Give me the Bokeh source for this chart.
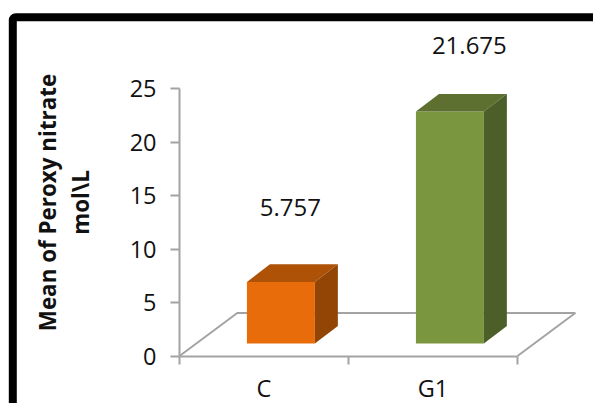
from bokeh.plotting import figure
from bokeh.models import Range1d, FixedTicker, Label, BoxAnnotation
from bokeh.embed import file_html
from bokeh.resources import INLINE

# Chart data
categories = ["C", "G1"]
values = [5.757, 21.675]
y_ticks = [0, 5, 10, 15, 20, 25]

# Colours per bar: front, top and side faces
front_colors = ["#E96C0A", "#7A963E"]
top_colors = ["#AE5208", "#5E7030"]
side_colors = ["#934505", "#4D5F28"]

FONT = "Open Sans"
GREY = "#A3A3A3"
WIDTH, HEIGHT = 593, 403

# Axis placement on the page, in pixels
ORIGIN_X, ORIGIN_Y = 179.0, 355.5
PX_PER_CATEGORY = 169.0
PX_PER_UNIT = 10.7

# Pseudo-3D geometry, in axis units (one category wide, y in value units)
BAR_WIDTH = 0.402
BAR_LIFT = 1.17
DEPTH_X = 0.136
DEPTH_Y = 1.64
FLOOR_X = 0.342
FLOOR_Y = 4.02

p = figure(
    width=WIDTH, height=HEIGHT, output_backend="svg", toolbar_location=None,
    x_range=Range1d(-ORIGIN_X / PX_PER_CATEGORY, (WIDTH - ORIGIN_X) / PX_PER_CATEGORY),
    y_range=Range1d(-(HEIGHT - ORIGIN_Y) / PX_PER_UNIT, ORIGIN_Y / PX_PER_UNIT),
    min_border_left=0, min_border_right=0, min_border_top=0, min_border_bottom=0,
    outline_line_color=None, background_fill_color="white", border_fill_color="white",
)
p.grid.visible = False

# Value axis
p.yaxis.fixed_location = 0
p.yaxis.bounds = (y_ticks[0], y_ticks[-1])
p.yaxis.ticker = FixedTicker(ticks=y_ticks)
p.yaxis.axis_line_color = GREY
p.yaxis.axis_line_width = 2
p.yaxis.major_tick_line_color = GREY
p.yaxis.major_tick_line_width = 2
p.yaxis.major_tick_out = 9
p.yaxis.major_tick_in = 0
p.yaxis.minor_tick_line_color = None
p.yaxis.major_label_text_font = FONT
p.yaxis.major_label_text_font_size = "23.5px"
p.yaxis.major_label_text_color = "#111111"
p.yaxis.major_label_standoff = 14

# Category axis: labels sit between the ticks that separate the categories
positions = [i + 0.5 for i in range(len(categories))]
p.xaxis.fixed_location = 0
p.xaxis.bounds = (0, len(categories))
p.xaxis.ticker = FixedTicker(ticks=positions, minor_ticks=list(range(len(categories) + 1)))
p.xaxis.major_label_overrides = dict(zip(positions, categories))
p.xaxis.axis_line_color = GREY
p.xaxis.axis_line_width = 2
p.xaxis.major_tick_line_color = None
p.xaxis.minor_tick_line_color = GREY
p.xaxis.minor_tick_line_width = 2
p.xaxis.minor_tick_out = 8
p.xaxis.minor_tick_in = 0
p.xaxis.major_label_text_font = FONT
p.xaxis.major_label_text_font_size = "23.5px"
p.xaxis.major_label_text_color = "#111111"
p.xaxis.major_label_standoff = 8

# Floor of the 3D plot area
n = len(categories)
p.line([0, FLOOR_X, n + FLOOR_X, n], [0, FLOOR_Y, FLOOR_Y, 0], line_color=GREY, line_width=2)

# Bars: front, top and side faces
for i, v in enumerate(values):
    x0 = i + 0.5 - 0.5 * BAR_WIDTH + 0.1
    x1 = x0 + BAR_WIDTH
    y0 = BAR_LIFT
    y1 = BAR_LIFT + v
    p.patch([x0, x1, x1, x0], [y0, y0, y1, y1], fill_color=front_colors[i], line_color=None)
    p.patch([x0, x1, x1 + DEPTH_X, x0 + DEPTH_X], [y1, y1, y1 + DEPTH_Y, y1 + DEPTH_Y],
            fill_color=top_colors[i], line_color=None)
    p.patch([x1, x1 + DEPTH_X, x1 + DEPTH_X, x1], [y0, y0 + DEPTH_Y, y1 + DEPTH_Y, y1],
            fill_color=side_colors[i], line_color=None)

# Value labels above the bars
label_offsets = [(0.156, 8.15), (0.215, 7.3)]
for i, v in enumerate(values):
    dx, dy = label_offsets[i]
    p.add_layout(Label(x=i + 0.5 + dx, y=v + dy, text=f"{v:.3f}", text_font=FONT,
                       text_font_size="24px", text_color="#111111",
                       text_align="center", text_baseline="middle"))

# Two-line value-axis title
for text, sx in (("Mean of Peroxy nitrate", 47), ("mol\\L", 80)):
    p.add_layout(Label(x=sx, y=HEIGHT - 202, x_units="screen", y_units="screen", text=text,
                       angle=90, angle_units="deg", text_font=FONT, text_font_size="22.4px",
                       text_font_style="bold", text_color="#111111",
                       text_align="center", text_baseline="middle"))

# Heavy black border running off the page
p.add_layout(BoxAnnotation(left=12.3, right=WIDTH + 50, top=HEIGHT - 16.7, bottom=-60,
                           left_units="screen", right_units="screen",
                           top_units="screen", bottom_units="screen",
                           fill_color=None, line_color="black", line_alpha=1.0,
                           line_width=8, border_radius=3))

open("out.html", "w").write(file_html(p, INLINE))
